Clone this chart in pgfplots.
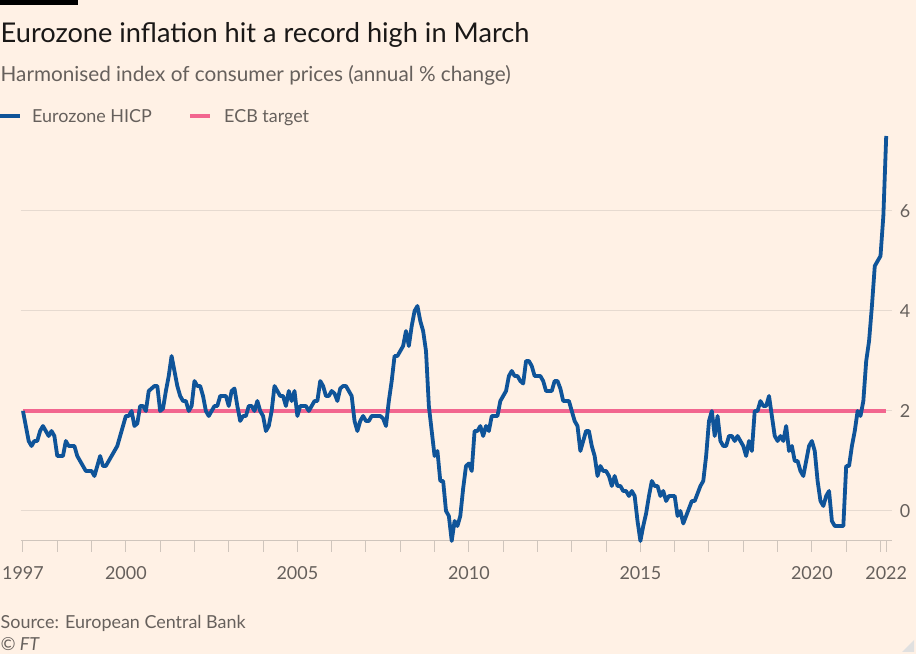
\documentclass[border=0pt]{standalone}
\usepackage{fontspec}
\setmainfont{Lato}
\usepackage{pgfplots}
\usepackage{pgfplotstable}
\pgfplotsset{compat=1.18}
\definecolor{ftbg}{HTML}{FFF1E5}
\definecolor{ftblue}{HTML}{0F5499}
\definecolor{ftpink}{HTML}{F2668F}
\definecolor{ftgrid}{HTML}{E6DAD0}
\definecolor{ftaxis}{HTML}{CFC5BC}
\definecolor{fttext}{HTML}{66605C}
\definecolor{fttitle}{HTML}{1A1817}

\pgfplotstableread{
yr m v
1997 1 2.0
1997 2 1.7
1997 3 1.4
1997 4 1.3
1997 5 1.4
1997 6 1.4
1997 7 1.6
1997 8 1.7
1997 9 1.6
1997 10 1.5
1997 11 1.6
1997 12 1.5
1998 1 1.1
1998 2 1.1
1998 3 1.1
1998 4 1.4
1998 5 1.3
1998 6 1.3
1998 7 1.3
1998 8 1.1
1998 9 1.0
1998 10 0.9
1998 11 0.8
1998 12 0.8
1999 1 0.8
1999 2 0.7
1999 3 0.9
1999 4 1.1
1999 5 0.9
1999 6 0.9
1999 7 1.0
1999 8 1.1
1999 9 1.2
1999 10 1.3
1999 11 1.5
1999 12 1.7
2000 1 1.9
2000 2 1.9
2000 3 2.0
2000 4 1.7
2000 5 1.75
2000 6 2.1
2000 7 2.1
2000 8 2.0
2000 9 2.4
2000 10 2.45
2000 11 2.5
2000 12 2.5
2001 1 2.0
2001 2 2.05
2001 3 2.4
2001 4 2.7
2001 5 3.1
2001 6 2.8
2001 7 2.5
2001 8 2.3
2001 9 2.2
2001 10 2.2
2001 11 2.0
2001 12 2.1
2002 1 2.6
2002 2 2.5
2002 3 2.5
2002 4 2.3
2002 5 2.0
2002 6 1.9
2002 7 2.0
2002 8 2.1
2002 9 2.1
2002 10 2.3
2002 11 2.3
2002 12 2.3
2003 1 2.1
2003 2 2.4
2003 3 2.45
2003 4 2.1
2003 5 1.8
2003 6 1.9
2003 7 1.9
2003 8 2.1
2003 9 2.1
2003 10 2.0
2003 11 2.2
2003 12 2.0
2004 1 1.9
2004 2 1.6
2004 3 1.7
2004 4 2.0
2004 5 2.5
2004 6 2.4
2004 7 2.3
2004 8 2.3
2004 9 2.1
2004 10 2.4
2004 11 2.2
2004 12 2.4
2005 1 1.9
2005 2 2.1
2005 3 2.1
2005 4 2.1
2005 5 2.0
2005 6 2.1
2005 7 2.2
2005 8 2.2
2005 9 2.6
2005 10 2.5
2005 11 2.3
2005 12 2.3
2006 1 2.4
2006 2 2.35
2006 3 2.2
2006 4 2.45
2006 5 2.5
2006 6 2.5
2006 7 2.4
2006 8 2.3
2006 9 1.8
2006 10 1.6
2006 11 1.8
2006 12 1.9
2007 1 1.8
2007 2 1.8
2007 3 1.9
2007 4 1.9
2007 5 1.9
2007 6 1.9
2007 7 1.85
2007 8 1.7
2007 9 2.2
2007 10 2.6
2007 11 3.1
2007 12 3.1
2008 1 3.2
2008 2 3.3
2008 3 3.6
2008 4 3.3
2008 5 3.7
2008 6 4.0
2008 7 4.1
2008 8 3.8
2008 9 3.6
2008 10 3.2
2008 11 2.1
2008 12 1.6
2009 1 1.1
2009 2 1.2
2009 3 0.6
2009 4 0.6
2009 5 0.0
2009 6 -0.1
2009 7 -0.6
2009 8 -0.2
2009 9 -0.3
2009 10 -0.1
2009 11 0.45
2009 12 0.9
2010 1 0.95
2010 2 0.8
2010 3 1.6
2010 4 1.6
2010 5 1.7
2010 6 1.5
2010 7 1.7
2010 8 1.6
2010 9 1.9
2010 10 1.9
2010 11 1.9
2010 12 2.2
2011 1 2.3
2011 2 2.4
2011 3 2.7
2011 4 2.8
2011 5 2.7
2011 6 2.7
2011 7 2.6
2011 8 2.55
2011 9 3.0
2011 10 3.0
2011 11 2.9
2011 12 2.7
2012 1 2.7
2012 2 2.7
2012 3 2.6
2012 4 2.4
2012 5 2.4
2012 6 2.4
2012 7 2.6
2012 8 2.6
2012 9 2.45
2012 10 2.2
2012 11 2.2
2012 12 2.2
2013 1 2.0
2013 2 1.8
2013 3 1.7
2013 4 1.2
2013 5 1.4
2013 6 1.6
2013 7 1.6
2013 8 1.3
2013 9 1.1
2013 10 0.7
2013 11 0.9
2013 12 0.8
2014 1 0.8
2014 2 0.7
2014 3 0.5
2014 4 0.7
2014 5 0.5
2014 6 0.5
2014 7 0.4
2014 8 0.4
2014 9 0.3
2014 10 0.4
2014 11 0.3
2014 12 -0.2
2015 1 -0.6
2015 2 -0.3
2015 3 -0.05
2015 4 0.3
2015 5 0.6
2015 6 0.5
2015 7 0.5
2015 8 0.3
2015 9 0.4
2015 10 0.2
2015 11 0.3
2015 12 0.3
2016 1 0.3
2016 2 -0.1
2016 3 0.0
2016 4 -0.25
2016 5 -0.1
2016 6 0.05
2016 7 0.2
2016 8 0.2
2016 9 0.35
2016 10 0.5
2016 11 0.6
2016 12 1.1
2017 1 1.8
2017 2 2.0
2017 3 1.5
2017 4 1.9
2017 5 1.4
2017 6 1.3
2017 7 1.3
2017 8 1.5
2017 9 1.5
2017 10 1.4
2017 11 1.5
2017 12 1.4
2018 1 1.3
2018 2 1.1
2018 3 1.4
2018 4 1.2
2018 5 2.0
2018 6 2.0
2018 7 2.2
2018 8 2.1
2018 9 2.1
2018 10 2.3
2018 11 1.9
2018 12 1.5
2019 1 1.4
2019 2 1.5
2019 3 1.4
2019 4 1.7
2019 5 1.2
2019 6 1.3
2019 7 1.0
2019 8 1.0
2019 9 0.8
2019 10 0.7
2019 11 1.0
2019 12 1.3
2020 1 1.4
2020 2 1.2
2020 3 0.6
2020 4 0.2
2020 5 0.1
2020 6 0.3
2020 7 0.4
2020 8 -0.2
2020 9 -0.3
2020 10 -0.3
2020 11 -0.3
2020 12 -0.3
2021 1 0.9
2021 2 0.9
2021 3 1.3
2021 4 1.6
2021 5 2.0
2021 6 1.9
2021 7 2.2
2021 8 3.0
2021 9 3.4
2021 10 4.1
2021 11 4.9
2021 12 5.0
2022 1 5.1
2022 2 5.9
2022 3 7.5
}\hicp

\pgfplotstableread{
x y
1997 2
2022.1667 2
}\ecb

\begin{document}
\begin{tikzpicture}[x=1bp,y=1bp]
\useasboundingbox (0,0) rectangle (916,654);
\fill[ftbg] (0,0) rectangle (916,654);
\fill[black] (0,649) rectangle (78,654);
\node[anchor=base west, inner sep=0, text=fttitle, font=\fontsize{27.3}{32}\selectfont] at (0.5,611) {Eurozone inflation hit a record high in March};
\node[anchor=base west, inner sep=0, text=fttext, font=\fontsize{20.8}{24}\selectfont] at (0.5,572) {Harmonised index of consumer prices (annual \% change)};
\draw[ftblue, line width=3.8bp] (0,538) -- (20,538);
\node[anchor=base west, inner sep=0, text=fttext, font=\fontsize{18}{22}\selectfont] at (32,531.5) {Eurozone HICP};
\draw[ftpink, line width=3.8bp] (190,538) -- (210,538);
\node[anchor=base west, inner sep=0, text=fttext, font=\fontsize{18}{22}\selectfont] at (224,531.5) {ECB target};
\node[anchor=base west, inner sep=0, text=fttext, font=\fontsize{18}{22}\selectfont] at (0.5,25.5) {Source: European Central Bank};
\node[anchor=base west, inner sep=0, text=fttext, font=\fontsize{18}{22}\selectfont\itshape] at (0.5,3) {© FT};
\fill[black!12] (914,2) -- (914,14) -- (902,2) -- cycle;

\begin{axis}[
  at={(20.9bp,113bp)}, anchor=south west,
  scale only axis, width=870.9bp, height=410bp,
  xmin=1996.94, xmax=2022.33, ymin=-0.6, ymax=7.6,
  axis x line*=bottom, axis y line*=right,
  x axis line style={ftaxis, line width=1bp},
  y axis line style={draw=none},
  ytick={0,2,4,6},
  ytick style={draw=none},
  ymajorgrids, grid style={ftgrid, line width=1bp},
  xtick={1997,1998,...,2022},
  xticklabels={1997,,,2000,,,,,2005,,,,,2010,,,,,2015,,,,,2020,,},
  extra x ticks={2022.1667},
  extra x tick labels={2022},
  extra x tick style={grid=none},
  xtick style={ftaxis, line width=1bp},
  tick align=outside, major tick length=11bp,
  tick label style={text=fttext, font=\fontsize{18}{22}\selectfont},
  /pgf/number format/assume math mode=true,
  xticklabel style={anchor=base, yshift=-28bp},
  yticklabel style={anchor=west, inner sep=0pt, xshift=-3bp},
  clip=false,
]
\addplot[ftpink, line width=3.8bp] table[x=x, y=y] {\ecb};
\addplot[ftblue, line width=3.8bp, line join=round] table[x expr=\thisrow{yr}+(\thisrow{m}-1)/12, y=v] {\hicp};
\end{axis}
\end{tikzpicture}
\end{document}
